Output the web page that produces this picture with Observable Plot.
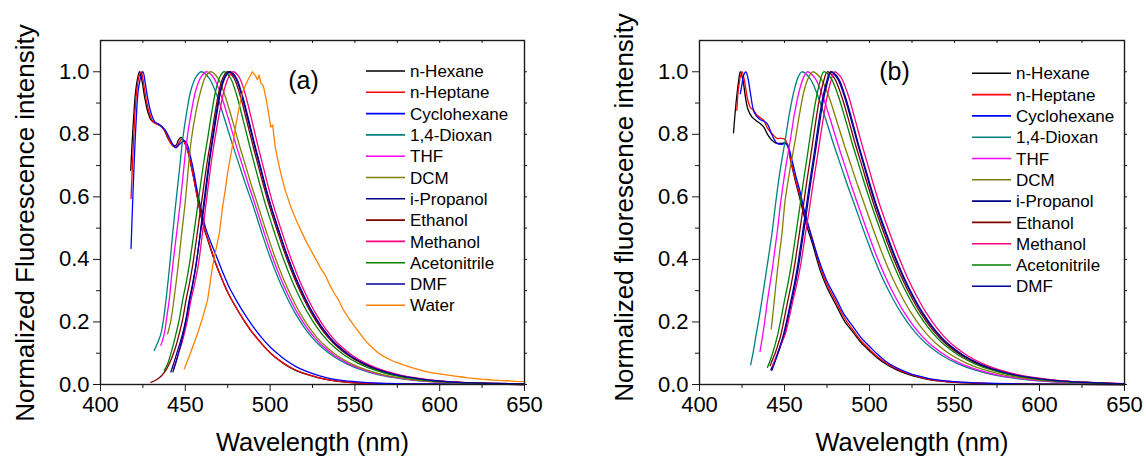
<!DOCTYPE html>
<html><head><meta charset="utf-8">
<script src="https://cdn.jsdelivr.net/npm/d3@7"></script>
<script src="https://cdn.jsdelivr.net/npm/@observablehq/plot@0.6"></script>
<style>
html,body{margin:0;padding:0;background:#fff;}
#wrap{position:relative;width:1146px;height:457px;display:flex;}
.panel{position:relative;width:573px;height:457px;}
.legend{position:absolute;left:0;top:0;pointer-events:none;}
</style></head><body>
<div id="wrap"><div class="panel" id="pa"></div><div class="panel" id="pb"></div></div>
<script>
// ---------- axis ticks ----------
const xMajor = [400, 450, 500, 550, 600, 650];
const xMinor = [425, 475, 525, 575, 625];
const yMajor = [0, 0.2, 0.4, 0.6, 0.8, 1.0];
const yMinor = [0.1, 0.3, 0.5, 0.7, 0.9];

// ---------- panel (a) ----------
const namesA = ["n-Hexane","n-Heptane","Cyclohexane","1,4-Dioxan","THF","DCM","i-Propanol","Ethanol","Methanol","Acetonitrile","DMF","Water"];
const colorsA = ["#000000","#ff0000","#0000ff","#008080","#ff00ff","#808000","#000080","#800000","#ff0080","#008000","#0000a0","#ff8000"];

const a_hexane = [[417.8,0.685],[419.5,0.85],[421,0.95],[423,1.0],[424.5,0.97],[426,0.92],[428,0.87],[430,0.845],[432.7,0.835],[435,0.83],[437.6,0.813],[440,0.785],[442.5,0.765],[444.5,0.765],[446,0.782],[447.5,0.79],[449,0.78],[451.4,0.749],[453,0.71],[455.2,0.653],[457,0.6],[459.2,0.54],[461,0.5],[464,0.45],[467,0.40],[471,0.345],[475,0.295],[479,0.255],[484,0.21],[489,0.17],[494,0.137],[498.5,0.109],[503,0.087],[508.3,0.066],[513,0.051],[518,0.039],[523,0.03],[528,0.022],[535,0.014],[542,0.009],[550,0.005],[565,0.002],[585,0.001],[650,0.0]];
const a_heptane = [[418,0.595],[419.5,0.78],[421,0.92],[422.5,0.98],[424,1.0],[425.5,0.96],[427,0.91],[429,0.865],[431,0.84],[433.5,0.832],[436,0.825],[438.5,0.805],[441,0.775],[443.5,0.76],[445,0.762],[446.5,0.775],[448,0.785],[449.5,0.775],[451.5,0.745],[453.5,0.7],[455.5,0.645],[457.5,0.59],[459.5,0.535],[461.5,0.495],[464.5,0.445],[467.5,0.395],[471,0.345],[475,0.295],[479,0.255],[484,0.21],[489,0.17],[494,0.137],[498.5,0.11],[503,0.088],[508.3,0.067],[513,0.052],[518,0.04],[523,0.031],[528,0.023],[535,0.015],[542,0.009],[550,0.005],[565,0.002],[585,0.001],[650,0.0]];
const a_cyclohexane = [[418,0.435],[419.5,0.66],[421,0.84],[422.5,0.95],[425,1.0],[426.5,0.96],[428,0.91],[430,0.865],[432,0.84],[435,0.83],[438,0.815],[440.5,0.79],[443,0.765],[444.5,0.757],[446,0.765],[448,0.775],[449.5,0.78],[451,0.77],[453,0.73],[455,0.68],[457,0.62],[459.5,0.555],[462,0.5],[465,0.455],[468,0.415],[472,0.36],[476,0.31],[480,0.27],[485,0.225],[490,0.185],[495,0.15],[500,0.12],[505,0.096],[510,0.075],[515,0.058],[520,0.045],[526,0.033],[533,0.022],[540,0.015],[550,0.009],[565,0.004],[585,0.002],[650,0.0]];
const a_dioxan = [[431.7,0.109],[433.8,0.135],[435.6,0.162],[437.2,0.21],[438.6,0.269],[440.7,0.376],[442.5,0.48],[444.3,0.575],[446.4,0.68],[448.4,0.781],[450.8,0.87],[453.3,0.941],[456.5,0.985],[459.5,1.0],[464.0,0.98],[468.6,0.925],[473.1,0.85],[477.7,0.77],[482.2,0.695],[486.0,0.633],[489.8,0.575],[494.8,0.49],[499.8,0.41],[504.8,0.34],[509.8,0.28],[514.8,0.228],[519.8,0.185],[524.8,0.15],[529.8,0.122],[536.8,0.092],[544.8,0.067],[554.8,0.045],[564.8,0.03],[576.8,0.019],[589.8,0.011],[609.8,0.005],[650,0.001]];
const a_thf = [[435.6,0.125],[437.6,0.162],[439.2,0.22],[440.5,0.269],[442.5,0.376],[444.8,0.48],[446.9,0.575],[448.9,0.68],[450.9,0.781],[453.5,0.87],[456.2,0.941],[459.5,0.985],[462.5,1.0],[466.8,0.98],[471.1,0.925],[475.4,0.85],[479.7,0.77],[484.0,0.695],[487.6,0.633],[491.2,0.575],[496.2,0.49],[501.2,0.41],[506.2,0.34],[511.2,0.28],[516.2,0.228],[521.2,0.185],[526.2,0.15],[531.2,0.122],[538.2,0.092],[546.2,0.067],[556.2,0.045],[566.2,0.03],[578.2,0.019],[591.2,0.011],[611.2,0.005],[650,0.001]];
const a_dcm = [[439.6,0.162],[441.5,0.205],[443.5,0.28],[445.8,0.38],[447.8,0.48],[449.8,0.575],[451.6,0.68],[453.5,0.781],[456.2,0.87],[459.2,0.941],[462,0.985],[465,1.0],[469.2,0.98],[473.3,0.925],[477.5,0.85],[481.6,0.77],[485.8,0.695],[489.2,0.633],[492.7,0.575],[497.7,0.49],[502.7,0.41],[507.7,0.34],[512.7,0.28],[517.7,0.228],[522.7,0.185],[527.7,0.15],[532.7,0.122],[539.7,0.092],[547.7,0.067],[557.7,0.045],[567.7,0.03],[579.7,0.019],[592.7,0.011],[612.7,0.005],[650,0.002]];
const a_propanol = [[441.5,0.04],[443.3,0.07],[445,0.1],[446.7,0.13],[448.4,0.162],[450.4,0.21],[452.3,0.269],[454.3,0.322],[456.2,0.38],[458.6,0.47],[461,0.568],[463,0.655],[464.6,0.725],[466.4,0.79],[468.7,0.87],[471,0.941],[473.8,0.985],[476.5,1.0],[480.1,0.98],[483.6,0.925],[487.2,0.85],[490.8,0.77],[494.4,0.695],[497.3,0.633],[500.3,0.575],[505.3,0.49],[510.3,0.41],[515.3,0.34],[520.3,0.28],[525.3,0.228],[530.3,0.185],[535.3,0.15],[540.3,0.122],[547.3,0.092],[555.3,0.067],[565.3,0.045],[575.3,0.03],[587.3,0.019],[600.3,0.011],[620.3,0.005],[650,0.002]];
const a_ethanol = [[429.7,0.007],[433,0.015],[436,0.028],[439,0.05],[442,0.085],[444.3,0.12],[446.4,0.162],[448.5,0.21],[450.4,0.269],[452.4,0.322],[454.3,0.38],[456.7,0.47],[459.2,0.568],[461.4,0.655],[463.3,0.725],[465.3,0.79],[467.6,0.87],[470,0.941],[472.5,0.985],[475,1.0],[478.6,0.98],[482.3,0.925],[485.9,0.85],[489.6,0.77],[493.2,0.695],[496.3,0.633],[499.3,0.575],[504.3,0.49],[509.3,0.41],[514.3,0.34],[519.3,0.28],[524.3,0.228],[529.3,0.185],[534.3,0.15],[539.3,0.122],[546.3,0.092],[554.3,0.067],[564.3,0.045],[574.3,0.03],[586.3,0.019],[599.3,0.011],[619.3,0.005],[650,0.002]];
const a_methanol = [[443,0.05],[444.6,0.075],[446,0.1],[447.8,0.13],[449.4,0.162],[451.4,0.21],[453.3,0.269],[455.5,0.322],[457.6,0.38],[459.8,0.47],[462,0.568],[464,0.655],[465.7,0.725],[467.6,0.79],[470.2,0.87],[472.9,0.941],[475.8,0.985],[478.5,1.0],[482,0.98],[485.5,0.925],[489,0.85],[492.5,0.77],[496,0.695],[498.9,0.633],[501.8,0.575],[506.8,0.49],[511.8,0.41],[516.8,0.34],[521.8,0.28],[526.8,0.228],[531.8,0.185],[536.8,0.15],[541.8,0.122],[548.8,0.092],[556.8,0.067],[566.8,0.045],[576.8,0.03],[588.8,0.019],[601.8,0.011],[621.8,0.005],[650,0.002]];
const a_acetonitrile = [[437.6,0.045],[439.5,0.065],[441,0.09],[442.8,0.125],[444.5,0.162],[446.5,0.21],[448.4,0.269],[450.4,0.322],[452.3,0.38],[454.7,0.47],[457.2,0.568],[459.4,0.655],[461.3,0.725],[463.3,0.79],[465.6,0.87],[468,0.941],[470.5,0.985],[473,1.0],[476.6,0.98],[480.3,0.925],[483.9,0.85],[487.6,0.77],[491.2,0.695],[494.3,0.633],[497.3,0.575],[502.3,0.49],[507.3,0.41],[512.3,0.34],[517.3,0.28],[522.3,0.228],[527.3,0.185],[532.3,0.15],[537.3,0.122],[544.3,0.092],[552.3,0.067],[562.3,0.045],[572.3,0.03],[584.3,0.019],[597.3,0.011],[617.3,0.005],[650,0.002]];
const a_dmf = [[442.7,0.04],[444.2,0.065],[445.5,0.09],[447.2,0.125],[448.8,0.162],[450.7,0.21],[452.6,0.269],[454.5,0.322],[456.3,0.38],[458.5,0.47],[460.6,0.568],[462.6,0.655],[464.3,0.725],[466.1,0.79],[468.3,0.87],[470.7,0.941],[473.3,0.985],[476,1.0],[479.6,0.98],[483.2,0.925],[486.8,0.85],[490.5,0.77],[494.1,0.695],[497.1,0.633],[500.1,0.575],[505.1,0.49],[510.1,0.41],[515.1,0.34],[520.1,0.28],[525.1,0.228],[530.1,0.185],[535.1,0.15],[540.1,0.122],[547.1,0.092],[555.1,0.067],[565.1,0.045],[575.1,0.03],[587.1,0.019],[600.1,0.011],[620.1,0.005],[650,0.002]];
const a_water = [[449.4,0.05],[451,0.072],[453,0.1],[455,0.13],[457.2,0.162],[460,0.21],[463.1,0.269],[464.5,0.32],[466,0.376],[468,0.43],[470,0.482],[472,0.568],[473.5,0.62],[474.9,0.675],[476.7,0.73],[478.4,0.781],[480,0.835],[481.8,0.888],[483.5,0.93],[485.7,0.96],[488,0.985],[489.6,1.0],[491,0.99],[492.6,0.975],[493.5,0.99],[494.5,0.965],[496,0.955],[497,0.93],[498.5,0.888],[500.4,0.824],[501.5,0.83],[503,0.76],[504.5,0.72],[506.3,0.675],[509,0.62],[512.2,0.568],[515,0.53],[518,0.495],[521,0.46],[524,0.43],[527,0.4],[530,0.37],[532.5,0.35],[535,0.32],[537.5,0.295],[540.4,0.27],[543,0.24],[546,0.215],[549.5,0.188],[553,0.163],[557,0.135],[560.8,0.115],[564,0.1],[567,0.09],[570.5,0.08],[573.7,0.072],[577,0.066],[580,0.06],[584,0.053],[588.7,0.046],[592,0.041],[596,0.037],[600,0.034],[605,0.03],[609,0.027],[613,0.024],[617,0.021],[621,0.019],[625,0.017],[628,0.016],[632,0.014],[635,0.013],[640,0.012],[645,0.01],[650,0.009]];
const seriesA = [a_hexane,a_heptane,a_cyclohexane,a_dioxan,a_thf,a_dcm,a_propanol,a_ethanol,a_methanol,a_acetonitrile,a_dmf,a_water];

// ---------- panel (b) ----------
const namesB = ["n-Hexane","n-Heptane","Cyclohexane","1,4-Dioxan","THF","DCM","i-Propanol","Ethanol","Methanol","Acetonitrile","DMF"];
const colorsB = ["#000000","#ff0000","#0000ff","#008080","#ff00ff","#808000","#000080","#800000","#ff0080","#008000","#0000a0"];

const b_hexane = [[420,0.805],[421.5,0.9],[423,0.97],[424,1.0],[425.5,0.975],[427,0.92],[428.5,0.88],[430.8,0.856],[433,0.845],[435.5,0.835],[437.7,0.824],[440,0.8],[442.6,0.781],[445,0.772],[447.5,0.771],[451.4,0.771],[453.5,0.72],[456.3,0.653],[458.8,0.6],[461.2,0.547],[463.5,0.5],[466.2,0.455],[471,0.365],[475,0.31],[480.9,0.248],[485,0.205],[490.6,0.165],[495,0.134],[500.5,0.105],[505,0.083],[510.3,0.063],[516,0.047],[522,0.034],[528,0.024],[535.8,0.015],[550,0.007],[570,0.003],[600,0.001],[650,0.0]];
const b_heptane = [[422,0.877],[423,0.95],[425,1.0],[426.5,0.97],[428,0.92],[430,0.885],[431.8,0.877],[434,0.86],[437.7,0.845],[440,0.82],[443,0.8],[445.6,0.787],[448,0.787],[450.5,0.783],[452,0.76],[454,0.71],[456.5,0.655],[459,0.605],[461.2,0.56],[463.5,0.515],[466.2,0.47],[471,0.375],[475,0.32],[480.9,0.258],[485,0.215],[490.6,0.172],[495,0.14],[500.5,0.11],[505,0.087],[510.3,0.067],[516,0.05],[522,0.036],[528,0.026],[535.8,0.016],[550,0.008],[570,0.003],[600,0.001],[650,0.0]];
const b_cyclohexane = [[424,0.93],[425,0.96],[426,0.99],[427.3,1.0],[428.5,0.98],[430,0.93],[432.2,0.87],[435,0.85],[439.7,0.835],[442.5,0.8],[445.6,0.771],[448,0.768],[450.5,0.771],[452.5,0.755],[454.4,0.717],[457,0.66],[459,0.62],[461.5,0.56],[464,0.51],[466,0.47],[471,0.386],[475,0.33],[480.9,0.269],[485,0.225],[490.6,0.183],[495,0.15],[500.5,0.119],[505,0.095],[510.3,0.071],[516,0.053],[522,0.039],[528,0.028],[535.8,0.018],[550,0.009],[570,0.004],[600,0.001],[650,0.0]];
const b_dioxan = [[430.1,0.063],[431.8,0.11],[433.4,0.162],[435.1,0.215],[436.7,0.269],[438.2,0.322],[439.7,0.376],[441.2,0.43],[442.6,0.482],[445,0.589],[447.6,0.69],[450.4,0.781],[453,0.87],[455.7,0.941],[458,0.982],[460.2,1.0],[464.85,0.98],[469.5,0.925],[474.15,0.85],[478.8,0.77],[483.45,0.695],[487.3,0.633],[491.2,0.575],[496.7,0.49],[502.2,0.41],[507.7,0.34],[513.2,0.28],[518.7,0.228],[524.2,0.185],[529.7,0.15],[535.2,0.122],[542.9,0.092],[551.7,0.067],[562.7,0.045],[573.7,0.03],[586.9,0.019],[601.2,0.011],[623.2,0.005],[650,0.002]];
const b_thf = [[435.6,0.106],[437.3,0.162],[438.7,0.215],[440,0.269],[441.5,0.322],[443,0.376],[444.3,0.43],[445.6,0.482],[447.9,0.589],[450.6,0.69],[453.4,0.781],[456,0.87],[458.8,0.941],[461.2,0.982],[463.4,1.0],[467.9,0.98],[472.3,0.925],[476.8,0.85],[481.3,0.77],[485.8,0.695],[489.5,0.633],[493.2,0.575],[498.7,0.49],[504.2,0.41],[509.7,0.34],[515.2,0.28],[520.7,0.228],[526.2,0.185],[531.7,0.15],[537.2,0.122],[544.9,0.092],[553.7,0.067],[564.7,0.045],[575.7,0.03],[588.9,0.019],[603.2,0.011],[625.2,0.005],[650,0.002]];
const b_dcm = [[442.2,0.178],[443.1,0.222],[444,0.269],[445,0.322],[446.1,0.376],[447.3,0.43],[448.5,0.482],[450.4,0.589],[453.3,0.69],[456.3,0.781],[459,0.87],[461.6,0.941],[464.2,0.982],[466.6,1.0],[471.2,0.98],[475.8,0.925],[480.3,0.85],[484.9,0.77],[489.5,0.695],[493.3,0.633],[497.1,0.575],[502.6,0.49],[508.1,0.41],[513.6,0.34],[519.1,0.28],[524.6,0.228],[530.1,0.185],[535.6,0.15],[541.1,0.122],[548.8,0.092],[557.6,0.067],[568.6,0.045],[579.6,0.03],[592.8,0.019],[607.1,0.011],[629.1,0.005],[650,0.002]];
const b_propanol = [[442,0.047],[443.7,0.068],[445.5,0.09],[447.8,0.125],[450,0.162],[452.2,0.215],[454.4,0.269],[456.4,0.322],[458.2,0.376],[459.7,0.43],[461.2,0.485],[463.2,0.56],[465.4,0.645],[467.8,0.73],[470.2,0.82],[472.7,0.905],[475.2,0.965],[477.6,1.0],[481.6,0.98],[485.5,0.925],[489.5,0.85],[493.4,0.77],[497.4,0.695],[500.7,0.633],[504,0.575],[509.5,0.49],[515,0.41],[520.5,0.34],[526,0.28],[531.5,0.228],[537,0.185],[542.5,0.15],[548,0.122],[555.7,0.092],[564.5,0.067],[575.5,0.045],[586.5,0.03],[599.7,0.019],[614,0.011],[636,0.005],[650,0.002]];
const b_ethanol = [[441.5,0.06],[443,0.08],[444.5,0.1],[446.3,0.13],[448,0.162],[450,0.215],[452,0.269],[454,0.322],[455.8,0.376],[457.3,0.43],[458.8,0.485],[460.8,0.56],[463,0.645],[465.4,0.73],[467.8,0.82],[470.3,0.905],[472.8,0.965],[475.2,1.0],[479.3,0.98],[483.4,0.925],[487.5,0.85],[491.6,0.77],[495.8,0.695],[499.2,0.633],[502.6,0.575],[508.1,0.49],[513.6,0.41],[519.1,0.34],[524.6,0.28],[530.1,0.228],[535.6,0.185],[541.1,0.15],[546.6,0.122],[554.3,0.092],[563.1,0.067],[574.1,0.045],[585.1,0.03],[598.3,0.019],[612.6,0.011],[634.6,0.005],[650,0.002]];
const b_methanol = [[443,0.06],[444.8,0.085],[446.5,0.11],[448.5,0.135],[450.5,0.162],[452.8,0.215],[455,0.269],[457.3,0.322],[459.3,0.376],[460.9,0.43],[462.4,0.485],[464.6,0.56],[466.9,0.645],[469.4,0.73],[471.9,0.82],[474.5,0.905],[477,0.965],[479.5,1.0],[481.5,0.993],[483.5,0.98],[487.5,0.925],[491.4,0.85],[495.4,0.77],[499.4,0.695],[502.7,0.633],[506,0.575],[511.5,0.49],[517,0.41],[522.5,0.34],[528,0.28],[533.5,0.228],[539,0.185],[544.5,0.15],[550,0.122],[557.7,0.092],[566.5,0.067],[577.5,0.045],[588.5,0.03],[601.7,0.019],[616,0.011],[638,0.005],[650,0.003]];
const b_acetonitrile = [[440,0.055],[441.5,0.076],[443,0.1],[444.6,0.13],[446.1,0.162],[448.1,0.215],[450,0.269],[452,0.322],[453.8,0.376],[455.3,0.43],[456.8,0.485],[458.8,0.56],[461,0.645],[463.4,0.73],[465.8,0.82],[468.3,0.905],[470.7,0.965],[473.1,1.0],[477.3,0.98],[481.5,0.925],[485.7,0.85],[489.9,0.77],[494.1,0.695],[497.6,0.633],[501.1,0.575],[506.6,0.49],[512.1,0.41],[517.6,0.34],[523.1,0.28],[528.6,0.228],[534.1,0.185],[539.6,0.15],[545.1,0.122],[552.8,0.092],[561.6,0.067],[572.6,0.045],[583.6,0.03],[596.8,0.019],[611.1,0.011],[633.1,0.005],[650,0.002]];
const b_dmf = [[442.5,0.045],[444,0.066],[445.5,0.09],[447.5,0.125],[449.5,0.162],[451.7,0.215],[453.8,0.269],[455.8,0.322],[457.6,0.376],[459.1,0.43],[460.6,0.485],[462.6,0.56],[464.8,0.645],[467.2,0.73],[469.6,0.82],[472.1,0.905],[474.6,0.965],[477,1.0],[481,0.98],[485,0.925],[489,0.85],[493,0.77],[497,0.695],[500.3,0.633],[503.6,0.575],[509.1,0.49],[514.6,0.41],[520.1,0.34],[525.6,0.28],[531.1,0.228],[536.6,0.185],[542.1,0.15],[547.6,0.122],[555.3,0.092],[564.1,0.067],[575.1,0.045],[586.1,0.03],[599.3,0.019],[613.6,0.011],[635.6,0.005],[650,0.002]];
const seriesB = [b_hexane,b_heptane,b_cyclohexane,b_dioxan,b_thf,b_dcm,b_propanol,b_ethanol,b_methanol,b_acetonitrile,b_dmf];

const FONT = "'Liberation Sans', Arial, sans-serif";

function drawPanel(el, names, colors, series, cfg) {
  const W = 573, H = 457, mt = 40, mb = 73;
  const ml = cfg.ml, mr = cfg.mr;
  const pw = W - ml - mr, ph = H - mt - mb;
  const lines = names.map((n, i) => Plot.line(series[i], {
    x: d => d[0], y: d => d[1], stroke: colors[i], strokeWidth: 1.3,
    curve: n === "Water" ? "linear" : "catmull-rom"
  }));
  const chart = Plot.plot({
    width: W, height: H, marginLeft: ml, marginRight: mr, marginTop: mt, marginBottom: mb,
    style: {fontFamily: FONT, background: "white", color: "#000", overflow: "visible"},
    x: {domain: [400, 650]},
    y: {domain: [0, 1.1]},
    marks: [
      ...lines,
      Plot.frame({stroke: "#1a1a1a", strokeWidth: 1.4}),
      Plot.axisX({ticks: xMajor, tickSize: 7, tickPadding: 5, fontSize: 22, label: null, tickFormat: d => String(d), stroke: "#1a1a1a"}),
      Plot.axisY({ticks: yMajor, tickSize: 7, tickPadding: 4, fontSize: 22, label: null, tickFormat: d3.format(".1f"), stroke: "#1a1a1a"}),
      Plot.tickX(xMinor, {x: d => d, insetTop: ph, insetBottom: -4, stroke: "#1a1a1a"}),
      Plot.tickY(yMinor, {y: d => d, insetRight: pw, insetLeft: -4, stroke: "#1a1a1a"}),
      Plot.tickX(xMajor.concat(xMinor), {x: d => d, insetBottom: ph - 3, stroke: "#1a1a1a"}),
      Plot.tickY(yMajor.concat(yMinor), {y: d => d, insetLeft: pw, insetRight: -3, stroke: "#1a1a1a"}),
      Plot.text([cfg.xlabel], {frameAnchor: "bottom", dy: 58, fontSize: 25.5, lineAnchor: "middle", fill: "#000"}),
      Plot.text([cfg.ylabel], {frameAnchor: "left", rotate: -90, dx: -75, dy: cfg.ylabelDy, fontSize: 26, lineAnchor: "middle", textAnchor: "middle", fill: "#000"}),
      Plot.text([cfg.tag], {frameAnchor: "top-left", dx: cfg.tagDx, dy: cfg.tagDy, fontSize: 25, textAnchor: "middle", lineAnchor: "middle", fill: "#000"})
    ]
  });
  el.appendChild(chart);

  // legend overlay
  const svg = d3.select(el).append("svg").attr("class", "legend").attr("width", W).attr("height", H);
  names.forEach((n, i) => {
    const y = cfg.legY + i * 21.3;
    svg.append("line").attr("x1", cfg.legX).attr("x2", cfg.legX + 39).attr("y1", y).attr("y2", y)
      .attr("stroke", colors[i]).attr("stroke-width", 1.6);
    svg.append("text").attr("x", cfg.legX + 44).attr("y", y).attr("dy", "0.36em")
      .attr("font-family", FONT).attr("font-size", 17).attr("fill", "#000").text(n);
  });
}

drawPanel(document.getElementById("pa"), namesA, colorsA, seriesA, {
  ml: 100, mr: 49, xlabel: "Wavelength (nm)", ylabel: "Normalized Fluorescence intensity",
  ylabelDy: 10.5, tag: "(a)", tagDx: 203, tagDy: 40, legX: 366, legY: 71
});
drawPanel(document.getElementById("pb"), namesB, colorsB, seriesB, {
  ml: 126, mr: 22, xlabel: "Wavelength (nm)", ylabel: "Normalized fluorescence intensity",
  ylabelDy: -5, tag: "(b)", tagDx: 195, tagDy: 31, legX: 399, legY: 73.3
});
</script></body></html>
